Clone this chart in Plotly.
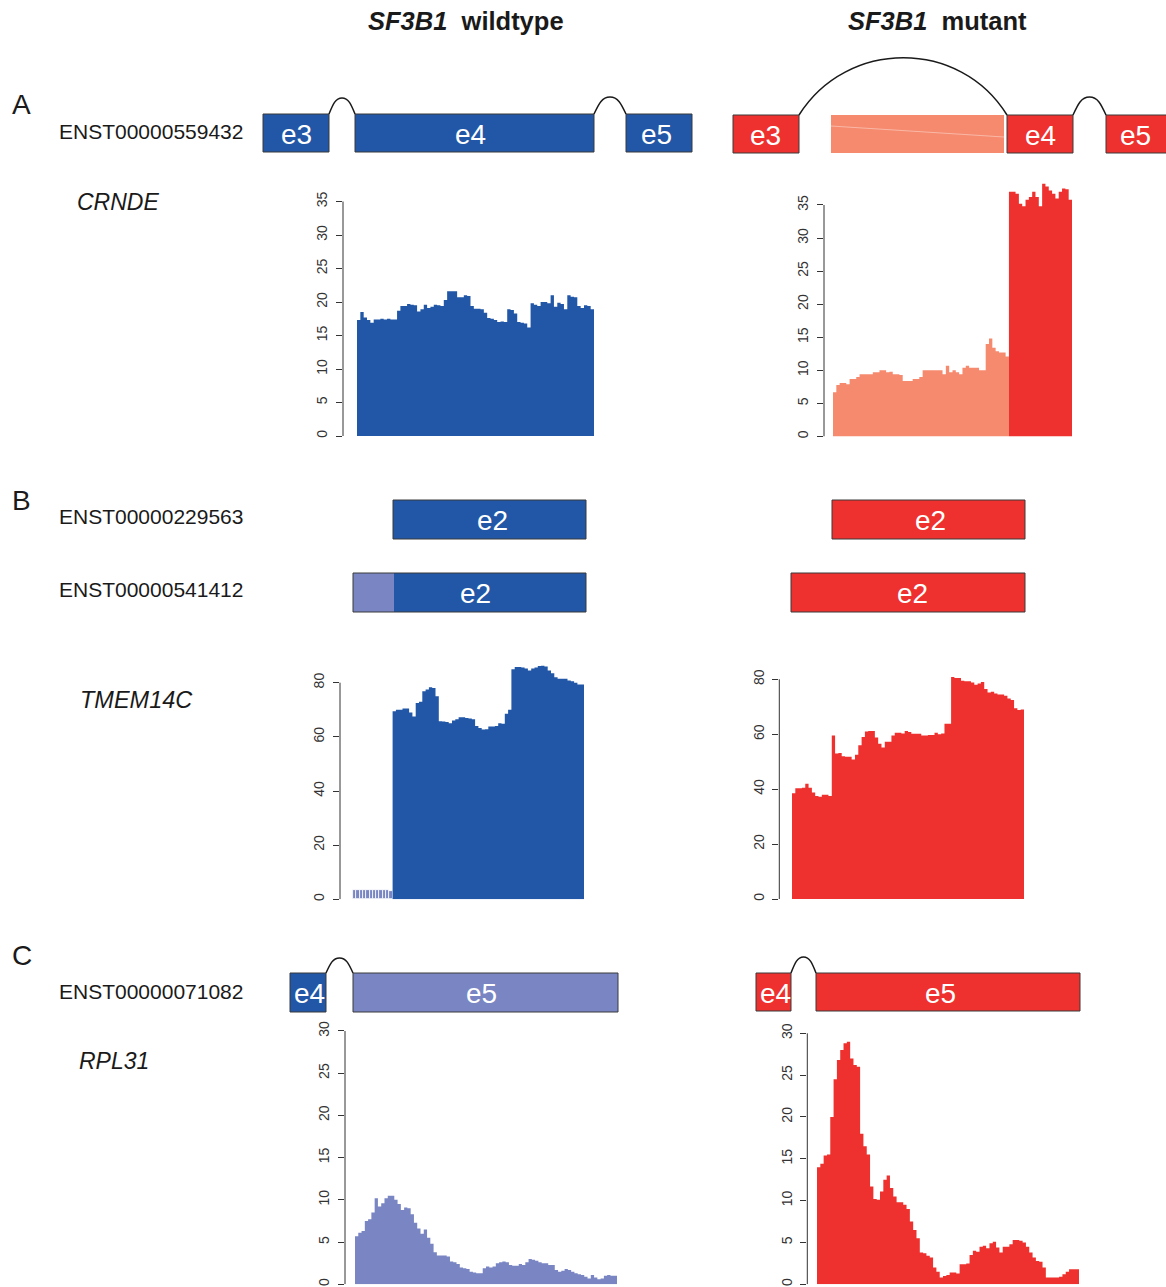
import plotly.graph_objects as go

# ---------------- data ----------------
# Coverage profiles (read depth), equally spaced positions along each exon
crnde_wt = [17.3, 18.5, 17.7, 17.3, 16.9, 17.4, 17.4, 17.5, 17.4, 17.5, 17.4, 17.4, 18.7, 19.4, 19.4,
            19.7, 19.6, 19.5, 18.6, 18.9, 19.6, 19.1, 19.3, 19.6, 19.5, 19.4, 20.3, 21.6, 21.6, 21.6,
            20.7, 20.7, 21.0, 20.9, 19.4, 19.0, 19.0, 18.9, 18.4, 17.6, 17.5, 17.3, 17.0, 17.1, 17.0,
            18.9, 18.8, 18.3, 17.0, 16.9, 16.8, 16.2, 19.8, 19.6, 19.4, 20.0, 20.0, 19.8, 21.0, 19.3,
            19.9, 19.7, 18.9, 21.0, 20.8, 20.7, 19.4, 19.1, 19.5, 19.4, 18.9]
crnde_mut_skipped = [6.7, 7.8, 8.1, 8.1, 7.9, 8.7, 8.7, 9.0, 9.4, 9.4, 9.4, 9.4, 9.7, 9.7, 10.0, 10.0,
                     9.7, 9.8, 9.4, 9.4, 9.3, 8.4, 8.4, 8.4, 8.7, 8.7, 9.0, 10.0, 10.0, 10.0, 10.0,
                     10.0, 10.0, 9.4, 10.7, 9.7, 10.0, 9.7, 9.4, 10.4, 10.7, 10.4, 10.4, 10.4, 10.0,
                     10.0, 14.0, 14.8, 13.4, 12.9, 12.7, 12.7, 12.1]
crnde_mut_e4 = [37.0, 37.0, 36.7, 35.2, 34.8, 35.8, 36.2, 37.0, 36.2, 34.8, 38.2, 37.8, 37.2, 36.7,
                36.0, 37.0, 37.5, 37.4, 35.8]
tmem_wt_alt = [3.3, 3.4, 3.5, 3.5, 3.6, 3.5, 3.4, 3.3, 3.4, 3.3, 3.3, 3.2]
tmem_wt_e2 = [69.5, 70.0, 70.0, 70.5, 70.5, 69.0, 67.5, 72.5, 73.0, 76.8, 77.5, 78.3, 78.0, 75.0, 65.8,
              65.7, 65.5, 65.0, 66.0, 66.5, 67.2, 67.2, 67.0, 66.8, 66.5, 64.0, 63.3, 62.7, 62.8, 63.8,
              63.8, 64.0, 65.0, 64.8, 68.5, 70.0, 85.0, 85.8, 85.8, 85.6, 85.2, 84.5, 85.2, 85.6, 86.2,
              86.3, 86.0, 84.5, 83.5, 82.0, 81.5, 81.5, 81.5, 80.8, 80.5, 80.0, 79.3, 79.3]
tmem_mut = [38.5, 40.3, 40.3, 40.5, 42.0, 40.5, 38.8, 37.5, 37.2, 38.0, 38.0, 37.5, 59.5, 53.0, 53.2,
            52.0, 51.8, 51.8, 50.8, 52.5, 56.0, 59.0, 61.0, 61.2, 61.2, 58.8, 56.5, 55.2, 57.3, 57.3,
            59.5, 60.5, 60.5, 60.3, 61.2, 60.8, 60.2, 60.2, 60.2, 59.5, 59.5, 59.7, 59.7, 60.5, 60.0,
            60.3, 63.8, 63.8, 80.8, 80.5, 80.5, 79.5, 79.3, 79.3, 78.8, 78.0, 78.5, 79.0, 76.5, 75.2,
            75.5, 74.8, 74.5, 74.5, 74.0, 73.0, 72.5, 69.5, 68.8, 69.0]
rpl31_wt = [5.7, 6.1, 6.3, 7.5, 7.7, 8.5, 10.2, 9.2, 9.6, 10.2, 10.5, 10.5, 10.0, 9.5, 8.8, 9.1, 9.0,
            8.3, 7.3, 6.6, 6.0, 6.5, 5.5, 4.8, 3.8, 3.4, 3.4, 3.4, 3.3, 2.7, 2.6, 2.4, 2.0, 1.9, 1.8,
            1.5, 1.4, 1.3, 1.3, 1.9, 2.1, 2.0, 2.1, 2.5, 2.6, 2.7, 2.6, 2.3, 2.2, 2.2, 2.4, 2.3, 2.6,
            3.0, 2.9, 2.8, 2.6, 2.5, 2.5, 2.3, 2.3, 1.7, 1.5, 1.6, 1.8, 1.7, 1.5, 1.3, 1.2, 1.1, 0.9,
            0.7, 1.1, 0.8, 0.6, 0.7, 1.0, 1.1, 1.0, 1.0]
rpl31_mut = [14.0, 14.4, 15.4, 15.5, 20.0, 24.5, 26.8, 28.0, 28.8, 29.0, 27.0, 26.2, 26.0, 18.0, 16.5,
             15.5, 11.7, 10.2, 10.1, 11.1, 12.5, 13.0, 11.5, 10.5, 9.8, 9.8, 9.5, 9.0, 7.5, 6.5, 5.5,
             3.8, 3.7, 3.4, 3.2, 2.0, 1.5, 0.8, 1.0, 1.1, 1.4, 1.4, 1.3, 2.4, 2.4, 2.5, 3.5, 4.0, 3.9,
             4.5, 4.6, 4.3, 4.9, 5.1, 4.4, 3.8, 4.5, 4.5, 4.8, 5.3, 5.3, 5.2, 5.0, 4.5, 3.8, 3.2, 2.8,
             2.7, 2.0, 0.8, 0.8, 0.8, 0.8, 0.9, 1.2, 1.5, 1.8, 1.8, 1.8]

# y tick values per coverage panel
ticks_crnde = [0, 5, 10, 15, 20, 25, 30, 35]
ticks_tmem = [0, 20, 40, 60, 80]
ticks_rpl31 = [0, 5, 10, 15, 20, 25, 30]

# Transcript schematics (schematic coordinates): (start, end, label, label_x, colour_key)
exons_a_wt = [(263, 329, "e3", 296, "blue"), (355, 594, "e4", 470, "blue"), (626, 692, "e5", 656, "blue")]
exons_a_mut = [(733, 799, "e3", 765, "red"), (1007, 1073, "e4", 1040, "red"), (1106, 1172, "e5", 1135, "red")]
skipped_a_mut = (831, 1004)
exons_b1_wt = [(393, 586, "e2", 492, "blue")]
exons_b2_wt = [(353, 394, "", 0, "lblue"), (394, 586, "e2", 475, "blue")]
exons_b1_mut = [(832, 1025, "e2", 930, "red")]
exons_b2_mut = [(791, 1025, "e2", 912, "red")]
exons_c_wt = [(290, 326, "e4", 309, "blue"), (353, 618, "e5", 481, "lblue")]
exons_c_mut = [(756, 791, "e4", 775, "red"), (816, 1080, "e5", 940, "red")]

transcripts = ["ENST00000559432", "ENST00000229563", "ENST00000541412", "ENST00000071082"]
genes = ["CRNDE", "TMEM14C", "RPL31"]
panels = ["A", "B", "C"]
conditions = ["SF3B1", "wildtype", "mutant"]

# ---------------- style ----------------
W, H = 1166, 1287
BLUE = "#2157A6"
LBLUE = "#7986C3"
RED = "#EE312E"
SALMON = "#F58A6F"
AX = "#333333"
FONT = "Liberation Sans, Arial, Helvetica, sans-serif"
COL = {"blue": BLUE, "lblue": LBLUE, "red": RED}


def fx(p):
    return p / W


def fy(p):
    return 1 - p / H


fig = go.Figure()
layout = {}
shapes = []
annotations = []


def add_panel(idx, axis_px, start_px, end_px, y0_px, tickmax, tickmax_px, ymax, ticks, parts):
    """parts: list of (values, colour, kind)"""
    n_total = sum(len(p[0]) for p in parts)
    per = (end_px - start_px) / n_total
    xr0 = -(start_px - axis_px) / per
    ppu = (y0_px - tickmax_px) / tickmax
    top_px = y0_px - ymax * ppu
    sfx = "" if idx == 1 else str(idx)
    off = 0
    for vals, colour, kind in parts:
        if kind == "bar":
            fig.add_trace(go.Bar(
                x=[off + i + 0.5 for i in range(len(vals))], y=vals, width=1,
                marker=dict(color=colour, line=dict(color="white", width=0.8)),
                xaxis="x" + sfx, yaxis="y" + sfx, showlegend=False, hoverinfo="skip"))
        else:
            xs = [off + i for i in range(len(vals) + 1)]
            ys = list(vals) + [vals[-1]]
            fig.add_trace(go.Scatter(
                x=xs, y=ys, mode="lines", line=dict(shape="hv", width=0, color=colour),
                fill="tozeroy", fillcolor=colour,
                xaxis="x" + sfx, yaxis="y" + sfx, showlegend=False, hoverinfo="skip"))
        off += len(vals)
    layout["xaxis" + sfx] = dict(domain=[fx(axis_px), fx(end_px)], range=[xr0, n_total],
                                 visible=False, anchor="y" + sfx, fixedrange=True, automargin=False)
    layout["yaxis" + sfx] = dict(
        domain=[fy(y0_px), fy(top_px)], range=[0, ymax], anchor="x" + sfx,
        tickvals=ticks, ticktext=[str(t) for t in ticks], ticks="outside", ticklen=6,
        tickwidth=1, tickcolor=AX, tickangle=-90, ticklabelstandoff=3,
        tickfont=dict(family=FONT, size=14, color=AX), automargin=False,
        showline=False, showgrid=False, zeroline=False, fixedrange=True)
    shapes.append(dict(type="line", xref="paper", yref="y" + sfx, x0=fx(axis_px), x1=fx(axis_px),
                       y0=0, y1=tickmax, line=dict(color=AX, width=1)))


add_panel(1, 343, 357, 594, 436, 35, 201.5, 35.5, ticks_crnde, [(crnde_wt, BLUE, "line")])
add_panel(2, 824, 833, 1072, 436.5, 35, 205, 39.5, ticks_crnde,
          [(crnde_mut_skipped, SALMON, "line"), (crnde_mut_e4, RED, "line")])
add_panel(3, 340, 353, 584, 899.3, 80, 682.7, 88, ticks_tmem,
          [(tmem_wt_alt, LBLUE, "bar"), (tmem_wt_e2, BLUE, "line")])
add_panel(4, 779.3, 792, 1024, 899, 80, 679.3, 84, ticks_tmem, [(tmem_mut, RED, "line")])
add_panel(5, 345, 355, 617, 1284.3, 30, 1031, 30.5, ticks_rpl31, [(rpl31_wt, LBLUE, "line")])
add_panel(6, 807.3, 817, 1079, 1284.3, 30, 1033.3, 30.5, ticks_rpl31, [(rpl31_mut, RED, "line")])

# overlay axis in schematic (pixel-like) units for transcript drawings
layout["xaxis7"] = dict(domain=[0, 1], range=[0, W], visible=False, anchor="y7", fixedrange=True,
                        automargin=False)
layout["yaxis7"] = dict(domain=[0, 1], range=[H, 0], visible=False, anchor="x7", fixedrange=True,
                        automargin=False)
fig.add_trace(go.Scatter(x=[None], y=[None], xaxis="x7", yaxis="y7", showlegend=False))


def exon_row(exons, y_top, y_bot, border=True):
    for (x0, x1, lab, lx, ck) in exons:
        shapes.append(dict(type="rect", xref="x7", yref="y7", x0=x0, x1=x1, y0=y_top, y1=y_bot,
                           fillcolor=COL[ck], line=dict(width=0), layer="above"))
        if lab:
            annotations.append(dict(xref="x7", yref="y7", x=lx, y=(y_top + y_bot) / 2 + 1, text=lab,
                                    showarrow=False, xanchor="center", yanchor="middle",
                                    font=dict(family=FONT, size=28, color="white")))
    if border:
        blocks = []
        for (x0, x1, *_r) in exons:
            if blocks and abs(blocks[-1][1] - x0) < 1.5:
                blocks[-1][1] = x1
            else:
                blocks.append([x0, x1])
        for b0, b1 in blocks:
            shapes.append(dict(type="rect", xref="x7", yref="y7", x0=b0, x1=b1, y0=y_top, y1=y_bot,
                               fillcolor="rgba(0,0,0,0)", line=dict(color="#3a3a3a", width=1),
                               layer="above"))


def bump(x1, x2, y_top, y_peak):
    w = x2 - x1
    m = (x1 + x2) / 2
    h = y_top - y_peak
    p = (f"M{x1},{y_top} C{x1 + 0.15 * w},{y_top - 0.6 * h} {m - 0.25 * w},{y_peak} {m},{y_peak} "
         f"C{m + 0.25 * w},{y_peak} {x2 - 0.15 * w},{y_top - 0.6 * h} {x2},{y_top}")
    shapes.append(dict(type="path", xref="x7", yref="y7", path=p,
                       line=dict(color="#1a1a1a", width=1.5), layer="above"))


# A
exon_row(exons_a_wt, 114, 152)
bump(329, 355, 114, 98)
bump(594, 626, 114, 97)
shapes.append(dict(type="rect", xref="x7", yref="y7", x0=skipped_a_mut[0], x1=skipped_a_mut[1],
                   y0=115, y1=153, fillcolor=SALMON, line=dict(width=0), layer="above"))
shapes.append(dict(type="line", xref="x7", yref="y7", x0=skipped_a_mut[0], x1=skipped_a_mut[1],
                   y0=126, y1=137, line=dict(color="#FAB8A6", width=1), layer="above"))
exon_row(exons_a_mut, 115, 153)
shapes.append(dict(type="path", xref="x7", yref="y7",
                   path="M799,115 C847,38.7 960,38.7 1007,115",
                   line=dict(color="#1a1a1a", width=1.5), layer="above"))
bump(1073, 1106, 115, 97)
# B
exon_row(exons_b1_wt, 500, 539)
exon_row(exons_b2_wt, 573, 612)
exon_row(exons_b1_mut, 500, 539)
exon_row(exons_b2_mut, 573, 612)
# C
exon_row(exons_c_wt, 973, 1012)
bump(326, 353, 973, 958)
exon_row(exons_c_mut, 973, 1011)
bump(791, 816, 973, 957)


def txt(x, y, s, size, xanchor="left", color="#1a1a1a"):
    annotations.append(dict(xref="x7", yref="y7", x=x, y=y, text=s, showarrow=False,
                            xanchor=xanchor, yanchor="middle",
                            font=dict(family=FONT, size=size, color=color)))


txt(466, 21, f"<b><i>{conditions[0]}</i>  {conditions[1]}</b>", 25.5, "center")
txt(937, 21, f"<b><i>{conditions[0]}</i>  {conditions[2]}</b>", 25.5, "center")
txt(10, 104, panels[0], 28)
txt(10, 500, panels[1], 28)
txt(10, 955, panels[2], 28)
txt(57, 131, transcripts[0], 21)
txt(57, 516, transcripts[1], 21)
txt(57, 589, transcripts[2], 21)
txt(57, 991, transcripts[3], 21)
txt(75, 202, f"<i>{genes[0]}</i>", 23)
txt(78, 700, f"<i>{genes[1]}</i>", 23.5)
txt(77, 1061, f"<i>{genes[2]}</i>", 23)

fig.update_layout(
    width=W, height=H, margin=dict(l=0, r=0, t=0, b=0, pad=0, autoexpand=False),
    paper_bgcolor="white", plot_bgcolor="rgba(0,0,0,0)",
    showlegend=False, bargap=0, shapes=shapes, annotations=annotations,
    **layout)

PAGE_FIX = (
    "var gd=document.getElementById('{plot_id}');"
    "gd.style.position='fixed';gd.style.top='0px';gd.style.left='0px';"
    "document.documentElement.style.margin='0';document.body.style.margin='0';"
    "document.documentElement.style.overflow='hidden';document.body.style.overflow='hidden';"
)

fig.write_html("out.html", config={"displayModeBar": False}, post_script=PAGE_FIX)
